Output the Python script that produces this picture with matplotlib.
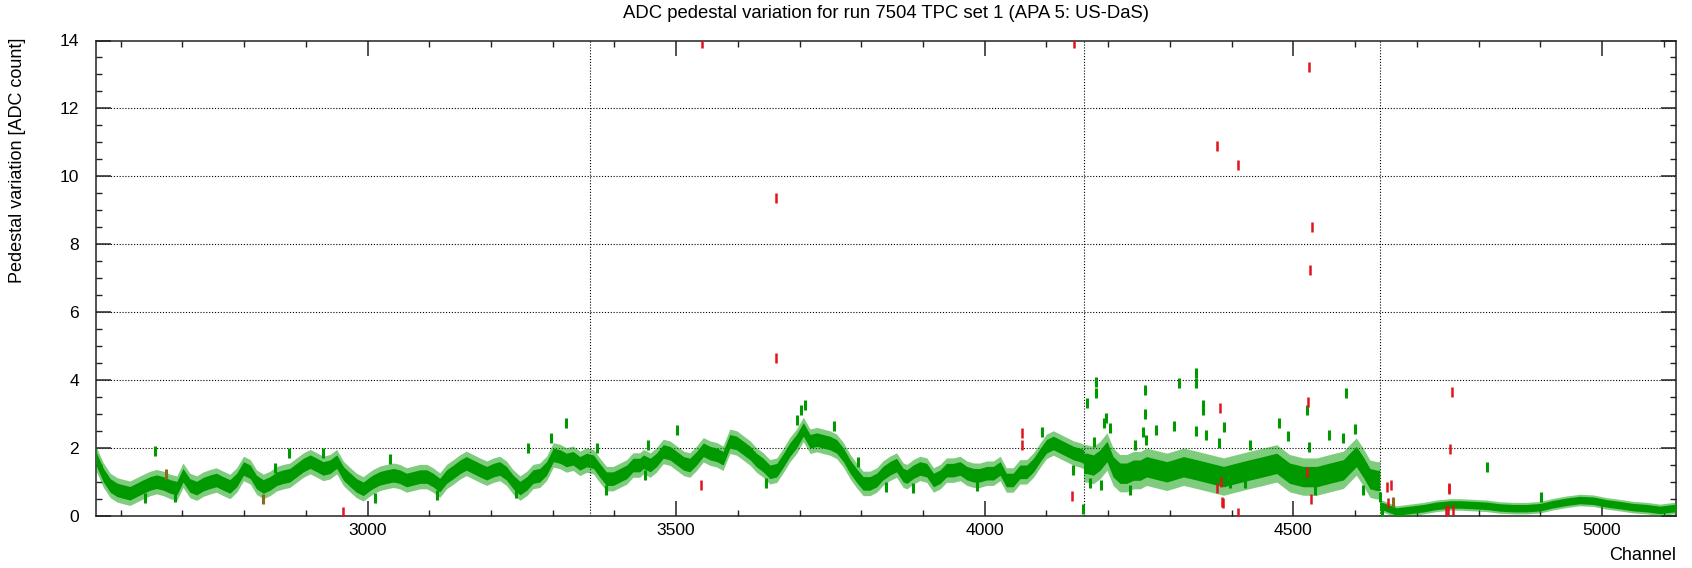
import matplotlib

matplotlib.use("Agg")
import matplotlib.pyplot as plt
import numpy as np
from matplotlib.ticker import MultipleLocator

plt.rcParams["font.family"] = ["Liberation Sans", "DejaVu Sans"]

TITLE = "ADC pedestal variation for run 7504 TPC set 1 (APA 5: US-DaS)"

# plane boundaries (U, V, X1, X2)
plane_edges = [2560, 3360, 4160, 4640, 5120]

# band centre, one pair of arrays per plane
u_ch = [
    2560, 2561, 2572, 2583, 2594, 2604, 2615, 2626, 2637, 2648, 2658, 2669, 2680,
    2691, 2701, 2712, 2723, 2734, 2745, 2755, 2766, 2777, 2788, 2799, 2810, 2820,
    2831, 2842, 2853, 2864, 2874, 2885, 2896, 2907, 2918, 2928, 2939, 2950, 2961,
    2972, 2982, 2993, 3004, 3009, 3020, 3031, 3042, 3052, 3063, 3074, 3085, 3096,
    3106, 3117, 3128, 3139, 3150, 3160, 3171, 3182, 3193, 3204, 3214, 3225, 3236,
    3247, 3258, 3268, 3279, 3290, 3301, 3312, 3322, 3333, 3344, 3355, 3360,
]
u_val = [
    1.85, 1.65, 1.2, 0.9, 0.77, 0.72, 0.67, 0.77, 0.87, 0.96, 1.01, 0.96, 0.87,
    0.82, 1.2, 0.9, 0.82, 0.94, 1.01, 1.06, 0.96, 0.87, 1.06, 1.4, 1.3, 1.0,
    0.87, 0.96, 1.1, 1.16, 1.2, 1.35, 1.5, 1.6, 1.5, 1.4, 1.45, 1.6, 1.25,
    1.06, 0.9, 0.8, 0.95, 1.01, 1.11, 1.16, 1.2, 1.16, 1.06, 1.11, 1.16, 1.16,
    1.06, 0.91, 1.16, 1.3, 1.45, 1.55, 1.45, 1.35, 1.26, 1.35, 1.4, 1.26, 1.0,
    0.82, 0.96, 1.16, 1.2, 1.4, 1.8, 1.75, 1.65, 1.7, 1.55, 1.65, 1.62,
]
v_ch = [
    3360, 3366, 3376, 3387, 3398, 3409, 3420, 3430, 3441, 3447, 3458, 3468, 3479,
    3490, 3501, 3512, 3522, 3533, 3544, 3555, 3566, 3576, 3587, 3598, 3609, 3620,
    3630, 3641, 3652, 3663, 3674, 3684, 3695, 3706, 3717, 3728, 3738, 3749, 3760,
    3771, 3782, 3792, 3803, 3814, 3825, 3835, 3846, 3857, 3868, 3874, 3884, 3895,
    3906, 3917, 3928, 3938, 3949, 3960, 3971, 3982, 3992, 4003, 4014, 4025, 4035,
    4046, 4057, 4068, 4079, 4090, 4100, 4111, 4122, 4133, 4144, 4154, 4160,
]
v_val = [
    1.62, 1.6, 1.35, 1.1, 1.1, 1.2, 1.3, 1.5, 1.5, 1.6, 1.5, 1.65, 1.9,
    1.85, 1.7, 1.55, 1.5, 1.7, 1.95, 1.85, 1.8, 1.7, 2.2, 2.15, 2.0, 1.85,
    1.65, 1.5, 1.3, 1.35, 1.65, 1.95, 2.2, 2.55, 2.2, 2.25, 2.2, 2.15, 2.05,
    1.8, 1.45, 1.2, 0.96, 0.96, 1.06, 1.26, 1.4, 1.5, 1.2, 1.16, 1.3, 1.4,
    1.35, 1.06, 1.16, 1.35, 1.35, 1.4, 1.26, 1.2, 1.2, 1.26, 1.26, 1.4, 1.06,
    1.06, 1.3, 1.3, 1.5, 1.8, 2.05, 2.15, 2.05, 1.95, 1.85, 1.8, 1.75,
]
x1_ch = [
    4160, 4165, 4176, 4187, 4198, 4208, 4219, 4230, 4241, 4252, 4262, 4273, 4284,
    4295, 4306, 4322, 4343, 4365, 4387, 4408, 4430, 4451, 4473, 4494, 4516, 4538,
    4559, 4581, 4602, 4613, 4624, 4635, 4640,
]
x1_val = [
    1.55, 1.55, 1.5, 1.65, 1.9, 1.45, 1.26, 1.26, 1.35, 1.35, 1.45, 1.4, 1.35,
    1.3, 1.36, 1.45, 1.36, 1.26, 1.16, 1.26, 1.36, 1.45, 1.55, 1.26, 1.16, 1.16,
    1.26, 1.36, 1.75, 1.45, 1.1, 1.05, 1.05,
]
x2_ch = [
    4640, 4646, 4667, 4689, 4711, 4732, 4754, 4770, 4792, 4813, 4835, 4857, 4878,
    4900, 4921, 4943, 4964, 4986, 5008, 5029, 5051, 5073, 5094, 5116, 5120,
]
x2_val = [
    0.3, 0.28, 0.13, 0.18, 0.23, 0.3, 0.34, 0.34, 0.32, 0.3, 0.25, 0.23, 0.23,
    0.26, 0.35, 0.42, 0.47, 0.45, 0.37, 0.32, 0.26, 0.23, 0.18, 0.23, 0.22,
]

# half thickness of the dense part of the band and of its sparse fringe
band_core = [0.2, 0.2, 0.3, 0.11]
band_fringe = [0.36, 0.36, 0.55, 0.17]

# single channels lying away from the band
stray_ch = [
    2656, 2873, 2927, 2639, 2688, 2850, 3322, 3298, 3260, 3037, 3012, 3112, 3241,
    3387, 3371, 3501, 3709, 3703, 3695, 3756, 3455, 3450, 3795, 3646, 3840, 4092,
    4165, 4180, 4181, 4197, 4193, 4203, 4260, 4259, 4256, 4277, 4262, 4177, 4243,
    4189, 4236, 4170, 3884, 3988, 4143, 4159, 4342, 4343, 4314, 4354, 4354, 4307,
    4343, 4358, 4387, 4380, 4476, 4522, 4585, 4600, 4557, 4580, 4491, 4526, 4430,
    4535, 4397, 4422, 4613, 4641, 4644, 4813, 4902,
]
stray_val = [
    1.9, 1.85, 1.85, 0.52, 0.57, 1.4, 2.73, 2.29, 2.0, 1.67, 0.52, 0.62, 0.67,
    0.77, 2.0, 2.54, 3.27, 3.13, 2.83, 2.64, 2.1, 1.21, 1.6, 0.96, 0.85, 2.46,
    3.32, 3.62, 3.95, 2.88, 2.73, 2.59, 3.72, 3.0, 2.46, 2.54, 2.24, 2.19, 2.09,
    0.91, 0.77, 0.96, 0.82, 0.88, 1.36, 0.2, 4.21, 3.91, 3.91, 3.27, 3.13, 2.64,
    2.51, 2.39, 2.61, 2.14, 2.75, 3.11, 3.62, 2.57, 2.39, 2.29, 2.36, 2.03, 2.09,
    0.77, 0.96, 0.96, 0.77, 0.55, 0.05, 1.43, 0.57,
]

# red (flagged) channels
bad_ch = [
    3542, 4144, 3661, 3662, 4376, 4410, 4525, 4531, 4527, 3541, 4061, 4060, 4141,
    4381, 4523, 4382, 4376, 4385, 4386, 4411, 4529, 4522, 4652, 4658, 4653, 4753,
    4750, 4757, 4754, 4752, 4748, 4758, 2961,
]
bad_val = [
    13.93, 13.93, 9.36, 4.65, 10.9, 10.32, 13.23, 8.52, 7.24, 0.91, 2.44, 2.09, 0.59,
    3.18, 3.35, 1.01, 0.82, 0.42, 0.37, 0.08, 0.49, 1.31, 0.85, 0.91, 0.39, 0.79,
    0.18, 3.65, 1.97, 0.82, 0.15, 0.18, 0.13,
]

# overlapping red/green marks that show up brownish
mixed_ch = [2673, 2831, 4661]
mixed_val = [1.23, 0.49, 0.42]

GREEN = "#009a00"
RED = "#e0141e"

fig = plt.figure(figsize=(16.92, 5.68), dpi=100)
ax = fig.add_axes([96 / 1692, 1 - 516 / 568, 1580 / 1692, 475.5 / 568])

planes = [(u_ch, u_val), (v_ch, v_val), (x1_ch, x1_val), (x2_ch, x2_val)]
for (ch, val), core, fringe in zip(planes, band_core, band_fringe):
    ch = np.array(ch)
    val = np.array(val)
    ax.fill_between(ch, val - fringe, val + fringe, color=GREEN, alpha=0.5,
                    lw=0, zorder=3)
    ax.fill_between(ch, val - core, val + core, color=GREEN, lw=0, zorder=3)

ax.plot(stray_ch, stray_val, ls="none", marker="|", ms=7, mew=2.2,
        color=GREEN, zorder=4)
ax.plot(mixed_ch, mixed_val, ls="none", marker="|", ms=7, mew=2.2,
        color="#8a6a1e", zorder=4)
ax.plot(bad_ch, bad_val, ls="none", marker="|", ms=6.5, mew=1.8,
        color=RED, zorder=5)

ax.set_xlim(plane_edges[0], plane_edges[-1])
ax.set_ylim(0, 14)

for yv in range(2, 14, 2):
    ax.axhline(yv, color="black", lw=0.8, ls=(0, (1, 1.6)), zorder=1)
for xv in plane_edges[1:-1]:
    ax.axvline(xv, color="black", lw=0.8, ls=(0, (1, 1.6)), zorder=1)

ax.xaxis.set_major_locator(MultipleLocator(500))
ax.xaxis.set_minor_locator(MultipleLocator(100))
ax.yaxis.set_major_locator(MultipleLocator(2))
ax.yaxis.set_minor_locator(MultipleLocator(0.5))
ax.tick_params(which="both", direction="in", top=True, right=True,
               labelsize=12.6, color="#222222")
ax.tick_params(which="major", length=11, width=1.1)
ax.tick_params(which="minor", length=4.5, width=1.0)
ax.tick_params(axis="x", pad=5)
ax.tick_params(axis="y", pad=12)
for spine in ax.spines.values():
    spine.set_linewidth(1.1)
    spine.set_color("#222222")

fig.text(0.5 * (96 + 1676) / 1692, 1 - 13 / 568, TITLE, ha="center",
         va="center", fontsize=13.3)
fig.text(18 / 1692, 1 - 38 / 568, "Pedestal variation [ADC count]",
         rotation=90, ha="center", va="top", fontsize=13)
fig.text(1676 / 1692, 1 - 556 / 568, "Channel", ha="right", va="center",
         fontsize=13)

fig.savefig("out.png", dpi=100)
